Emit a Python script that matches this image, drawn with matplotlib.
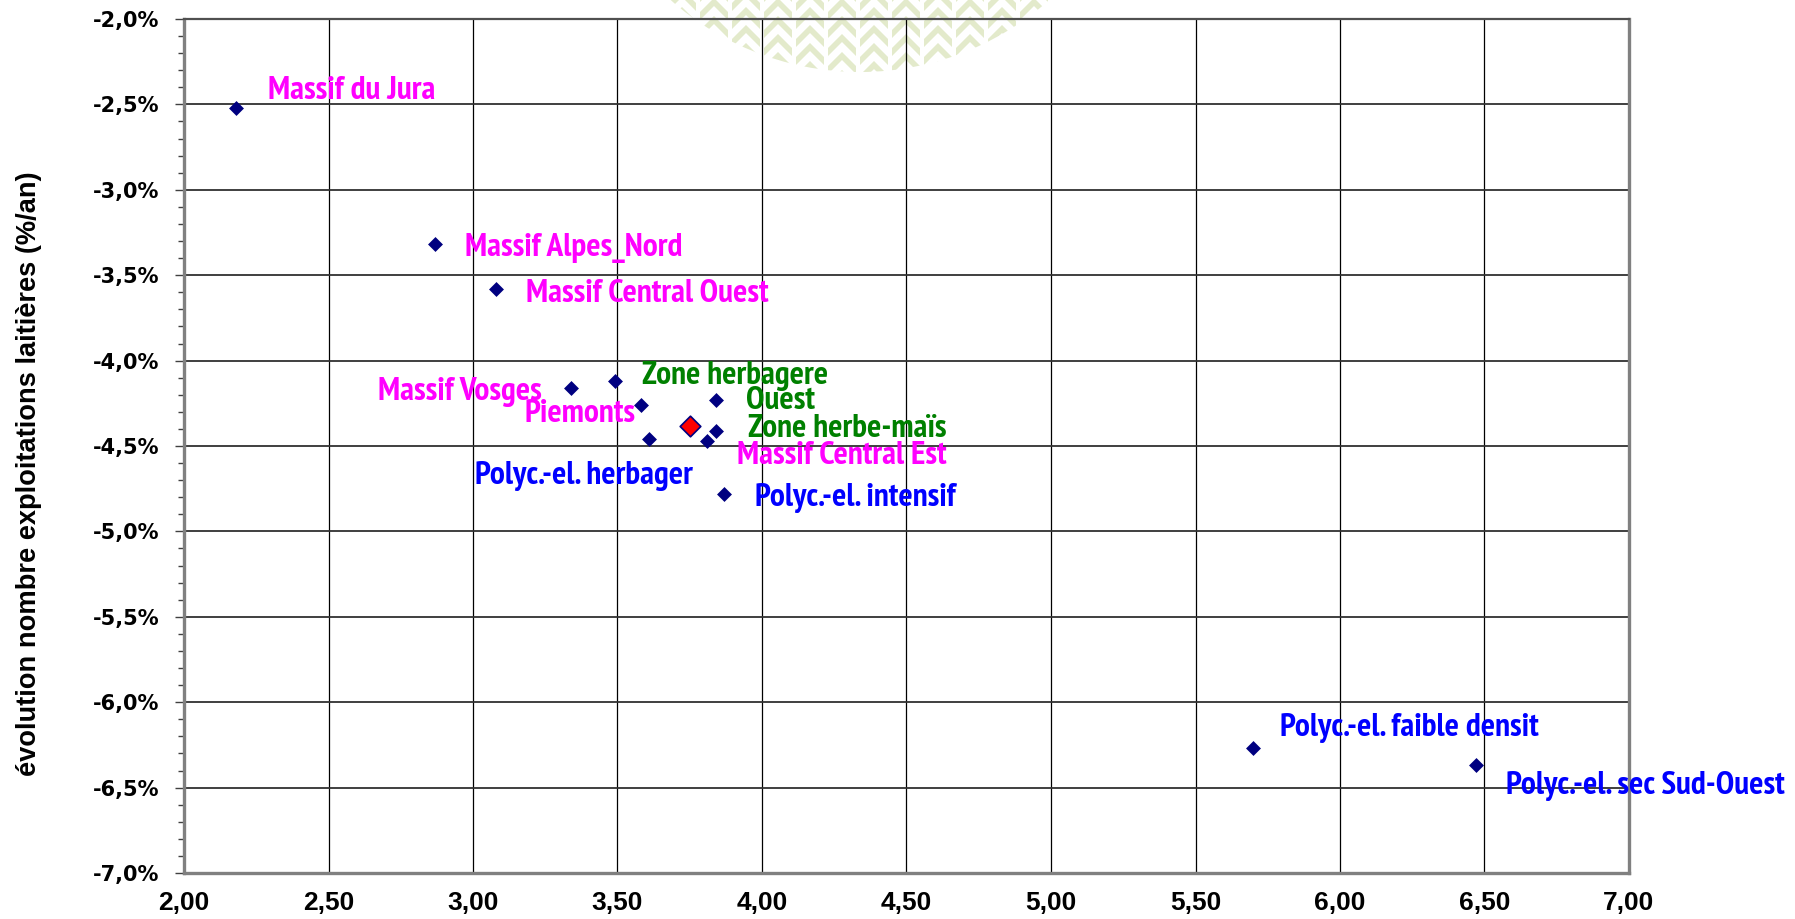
import numpy as np
import matplotlib
matplotlib.use("Agg")
import matplotlib.pyplot as plt
from matplotlib.ticker import MultipleLocator, FuncFormatter
from matplotlib.collections import PolyCollection
from matplotlib.patches import Circle

# ---------------- data ----------------
names = ["Massif du Jura", "Massif Alpes_Nord", "Massif Central Ouest", "Massif Vosges",
         "Zone herbagere", "Piemonts", "Ouest", "Zone herbe-maïs", "Massif Central Est",
         "Polyc.-el. herbager", "Polyc.-el. intensif", "Polyc.-el. faible densit",
         "Polyc.-el. sec Sud-Ouest"]
x_vals = [2.18, 2.87, 3.08, 3.34, 3.49, 3.58, 3.84, 3.84, 3.81, 3.61, 3.87, 5.70, 6.47]
y_vals = [-2.52, -3.32, -3.58, -4.16, -4.12, -4.26, -4.23, -4.41, -4.47, -4.46, -4.78, -6.27, -6.37]
groups = ["massif", "massif", "massif", "massif", "zone", "massif", "zone", "zone", "massif",
          "polyc", "polyc", "polyc", "polyc"]
mean_x = [3.75]
mean_y = [-4.385]

x_ticks = [2.0, 2.5, 3.0, 3.5, 4.0, 4.5, 5.0, 5.5, 6.0, 6.5, 7.0]
y_ticks = [-7.0, -6.5, -6.0, -5.5, -5.0, -4.5, -4.0, -3.5, -3.0, -2.5, -2.0]
y_label = "évolution nombre exploitations laitières (%/an)"

# ---------------- style ----------------
group_colors = {"massif": "#FF00FF", "zone": "#008000", "polyc": "#0000FF"}
# label offsets in pixels (dx, dy up) and horizontal alignment
label_pos = [(32, 20, "left"), (30, -1, "left"), (30, -2, "left"), (-30, -1, "right"),
             (27, 8, "left"), (-5, -6, "right"), (30, 2, "left"), (32, 5, "left"),
             (30, -12, "left"), (-65, -34, "center"), (31, -1, "left"),
             (27, 23, "left"), (30, -18, "left")]
narrow = ["PT Sans Narrow", "IBM Plex Sans Condensed", "Liberation Sans", "DejaVu Sans"]

W, H = 1795, 919
fig = plt.figure(figsize=(W / 100, H / 100), dpi=100)
fig.patch.set_facecolor("white")

# decorative watermark (light green chevron columns in a circle, top centre)
bg = fig.add_axes([0, 0, 1, 1], zorder=-1)
bg.set_xlim(0, W)
bg.set_ylim(H, 0)
bg.axis("off")
chev = np.array([(-14, 5), (0, -9), (14, 5), (14, 13), (0, -1), (-14, 13)], dtype=float)
polys = []
for i, c in enumerate(np.arange(682, 1045, 32)):
    off = 0 if i % 2 == 0 else 9
    for yy in np.arange(-20 + off, 95, 18):
        polys.append(chev + [c, yy])
pc = PolyCollection(polys, facecolors="#e3eacb", edgecolors="none")
bg.add_collection(pc)
clip = Circle((860, -213), 285, transform=bg.transData)
pc.set_clip_path(clip)

ax = fig.add_axes([184 / W, 1 - 873 / H, 1445 / W, 854 / H])
ax.set_facecolor("none")
ax.set_xlim(2.0, 7.0)
ax.set_ylim(-7.0, -2.0)

ax.set_xticks(x_ticks)
ax.set_yticks(y_ticks)
ax.yaxis.set_minor_locator(MultipleLocator(0.1))
ax.xaxis.set_major_formatter(FuncFormatter(lambda v, p: f"{v:.2f}".replace(".", ",")))
ax.yaxis.set_major_formatter(FuncFormatter(lambda v, p: f"{v:.1f}".replace(".", ",") + "%"))

ax.grid(True, axis="x", color="black", linewidth=0.9, zorder=1)
ax.grid(True, axis="y", color="#303030", linewidth=1.3, zorder=1)
ax.set_axisbelow(True)

for s in ["left", "bottom", "right"]:
    ax.spines[s].set_color("#808080")
    ax.spines[s].set_linewidth(2.4)
ax.spines["top"].set_color("#505050")
ax.spines["top"].set_linewidth(1.6)

ax.tick_params(axis="x", which="both", length=0, pad=13)
ax.tick_params(axis="y", which="major", direction="out", length=6.5, width=1.0,
               color="#404040", pad=11)
ax.tick_params(axis="y", which="minor", direction="out", length=4.5, width=1.0,
               color="#404040")
for lab in ax.get_xticklabels():
    lab.set_fontfamily(["Liberation Sans", "DejaVu Sans"])
    lab.set_fontweight("bold")
    lab.set_fontsize(19)
for lab in ax.get_yticklabels():
    lab.set_fontfamily(["DejaVu Sans"])
    lab.set_fontweight("bold")
    lab.set_fontsize(15)

ax.set_ylabel(y_label, fontsize=19.6, fontweight="bold",
              fontfamily=["Liberation Sans", "DejaVu Sans"])
ax.yaxis.set_label_coords(-0.098, 0.468)

# points
ax.scatter(x_vals, y_vals, marker="D", s=7.6 ** 2, color="#000080", linewidths=0,
           zorder=5, clip_on=False)
ax.scatter(mean_x, mean_y, marker="D", s=10.5 ** 2, color="#FF0000", edgecolors="#000080",
           linewidths=1.2, zorder=6, clip_on=False)

for n, xv, yv, g, (dx, dy, ha) in zip(names, x_vals, y_vals, groups, label_pos):
    ax.annotate(n, (xv, yv), xytext=(dx, dy - 11), textcoords="offset pixels",
                ha=ha, va="baseline", color=group_colors[g], fontsize=24,
                fontweight="bold", fontfamily=narrow,
                annotation_clip=False, zorder=7)

fig.savefig("out.png", dpi=100, facecolor="white")
